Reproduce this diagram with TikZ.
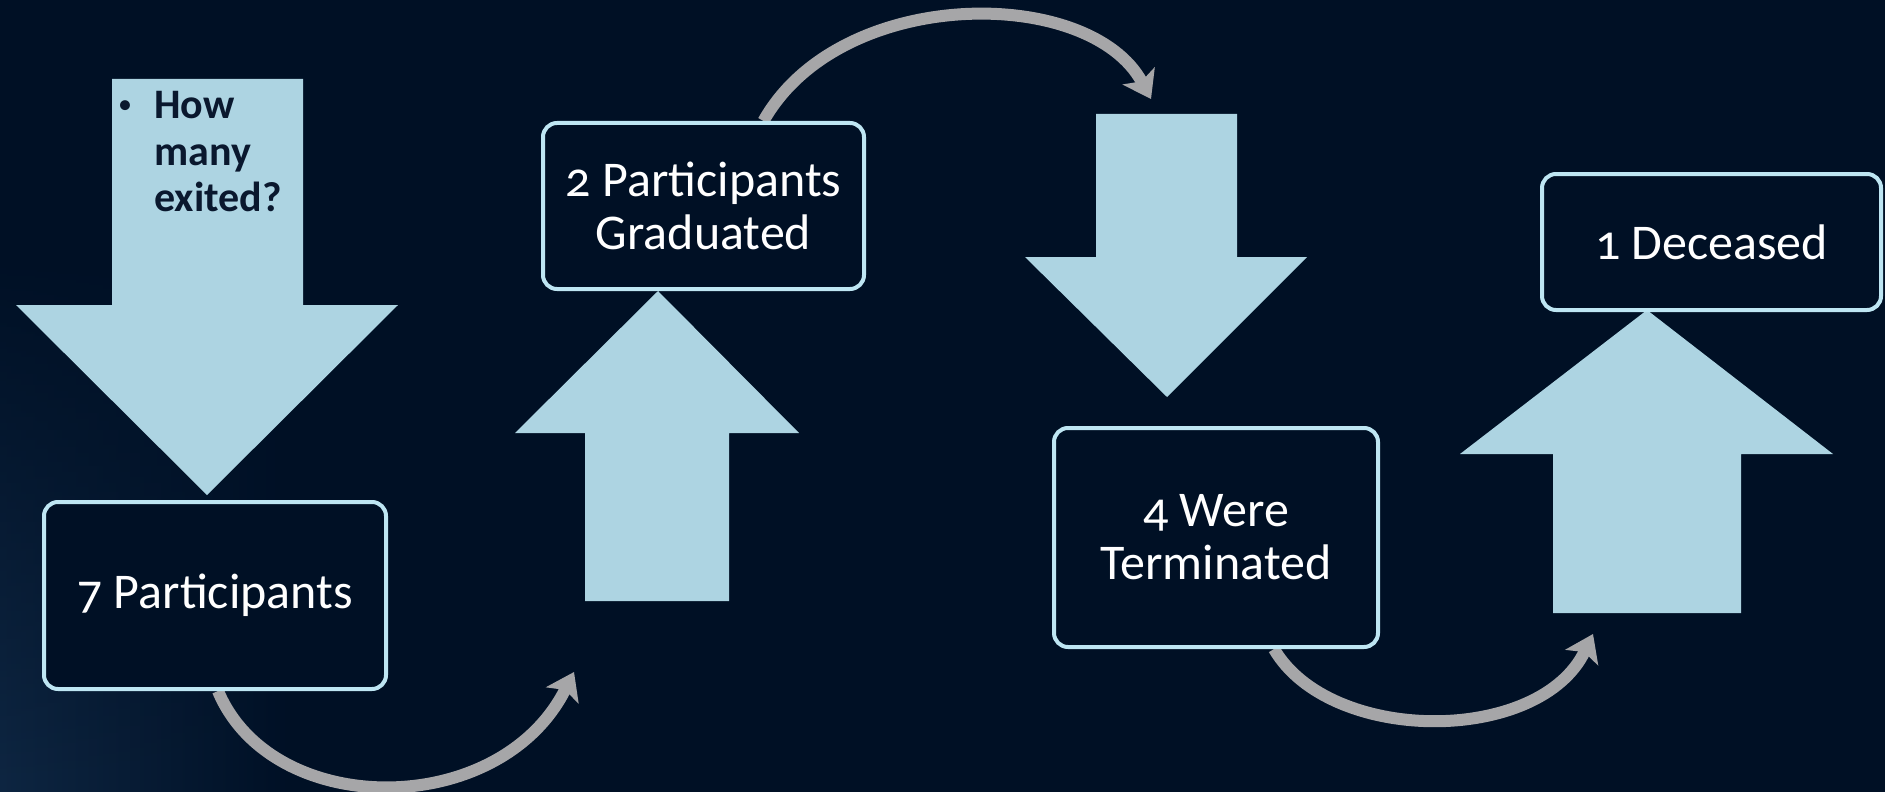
\documentclass[tikz,border=0pt]{standalone}
\usepackage{fontspec}
\setmainfont{Carlito}[Numbers=OldStyle]
\usetikzlibrary{arrows.meta,calc,fadings}
\definecolor{bgNavy}{RGB}{0,16,37}
\definecolor{bgEdge}{RGB}{14,38,66}
\definecolor{arrBlue}{RGB}{173,212,226}
\definecolor{boxLine}{RGB}{190,230,243}
\definecolor{arcGray}{RGB}{166,166,168}
\definecolor{askInk}{RGB}{10,24,46}
\pgfdeclarelayer{bg}
\pgfdeclarelayer{links}
\pgfsetlayers{bg,links,main}

\tikzstyle{bS}=[rounded corners=7pt,draw=boxLine,line width=2pt,fill=bgNavy,text=white,align=center,inner sep=0pt,font=\fontsize{25}{26.5}\selectfont]
\tikzstyle{aS}=[fill=arrBlue]
\tikzstyle{cS}=[draw=arcGray,line width=6pt,-{Stealth[length=13pt,width=18pt,inset=3pt]}]
\tikzstyle{qS}=[text=askInk,inner sep=0pt,font=\bfseries\fontsize{21}{23.25}\selectfont,align=left]

\begin{document}
\begin{tikzpicture}[x=0.5pt,y=-0.5pt]
        \begin{pgfonlayer}{bg}
                \fill[bgNavy] (0,0) rectangle (1885,792);
                \shade[left color=bgEdge,right color=bgNavy,path fading=north] (0,250) rectangle (300,792);
        \end{pgfonlayer}
        \useasboundingbox (0,0) rectangle (1885,792);

                % big arrows
                \fill[aS] (112,79) -- (303,79) -- (303,305) -- (398,305) -- (207,495) -- (16,305) -- (112,305) -- cycle;
                \fill[aS] (585,601) -- (729,601) -- (729,433) -- (799,433) -- (658,291) -- (515,433) -- (585,433) -- cycle;
                \fill[aS] (1096,114) -- (1237,114) -- (1237,257) -- (1307,257) -- (1167,397) -- (1025,257) -- (1096,257) -- cycle;
                \fill[aS] (1553,613) -- (1741,613) -- (1741,454) -- (1833,454) -- (1647,310) -- (1460,454) -- (1553,454) -- cycle;

                \draw (125,107) node[qS,font=\fontsize{14}{14}\selectfont] (q0) {•};
                \draw (154,91) node[qS,anchor=north west] (q1) {How\\many\\exited?};

                \draw (215,595.5) node[bS,minimum width=171pt,minimum height=93.5pt] (b0) {7 Participants};
                \draw (703.5,206) node[bS,minimum width=160.5pt,minimum height=83pt] (b1) {2 Participants\\Graduated};
                \draw (1216,537.5) node[bS,minimum width=162pt,minimum height=109.5pt] (b2) {4 Were\\Terminated};
                \draw (1711.5,242) node[bS,minimum width=169.5pt,minimum height=68pt] (b3) {1 Deceased};

                \coordinate (e0) at (574,672);
                \coordinate (e1) at (1151,99);
                \coordinate (e2) at (1593,634);

        \begin{pgfonlayer}{links}
                \draw[cS] ($(b0.south)+(3,0)$) .. controls (272,820) and (500,820) .. (e0);
                \draw[cS] ($(b1.north)+(60,0)$) .. controls (840,-15) and (1090,-15) .. (e1);
                \draw[cS] ($(b2.south)+(58,0)$) .. controls (1330,745) and (1540,745) .. (e2);
        \end{pgfonlayer}
\end{tikzpicture}
\end{document}
